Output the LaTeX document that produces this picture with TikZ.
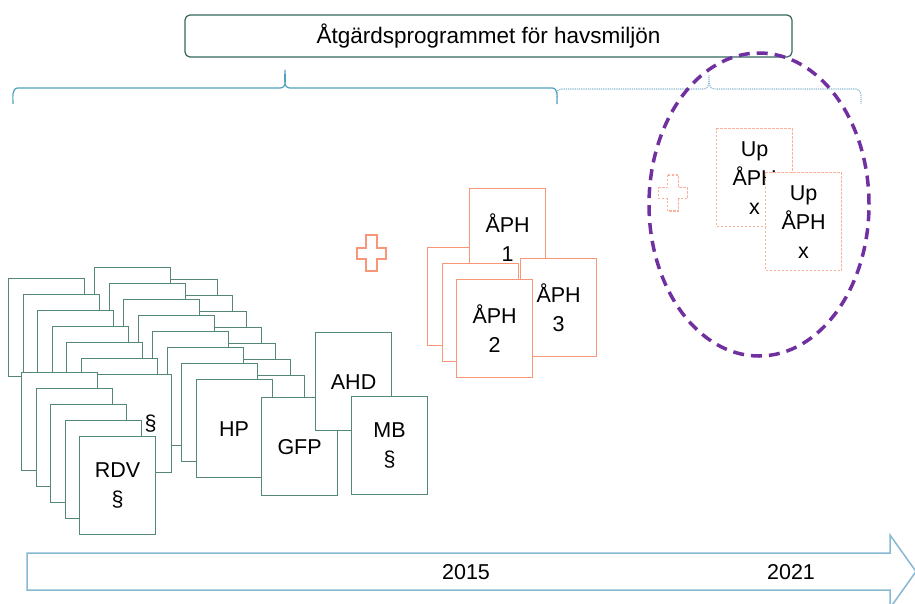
\documentclass[tikz,border=0pt]{standalone}
\usepackage{fontspec}
\setmainfont{Liberation Sans}
\usetikzlibrary{positioning}
\definecolor{slidegreen}{RGB}{84,134,122}
\definecolor{titlegreen}{RGB}{52,102,92}
\definecolor{aphorange}{RGB}{247,150,121}
\definecolor{aphlight}{RGB}{250,178,158}
\definecolor{circlepurple}{RGB}{112,48,160}
\definecolor{braceblue}{RGB}{80,160,190}
\definecolor{arrowblue}{RGB}{135,185,210}
\newcommand{\widthpage}{76pt}
\newcommand{\heightpage}{98pt}
\newcommand{\stackdx}{14.5}
\newcommand{\stackdy}{16}
\tikzset{
    common/.style={anchor=north west, draw, fill=white, rectangle, line width=1.2pt, align=center, font=\fontsize{21.5}{29}\selectfont},
    page/.style={common, draw=slidegreen, minimum width=\widthpage, minimum height=\heightpage},
    aph/.style={page, draw=aphorange},
    upaph/.style={aph, draw=aphlight, dash pattern=on 2.5pt off 1.5pt},
    pagetext/.style={font=\fontsize{21.5}{29}\selectfont, inner sep=0pt},
    titlebox/.style={draw=titlegreen, line width=1.2pt, rounded corners=5pt, minimum width=607pt, minimum height=42pt, font=\fontsize{22.5}{25}\selectfont},
    period/.style={braceblue, line width=1.2pt},
    nextperiod/.style={period, arrowblue, densely dotted},
    timeline/.style={draw=arrowblue, fill=white, line width=1.5pt, line join=miter},
    year/.style={pagetext},
    circlemark/.style={draw=circlepurple, line width=3.5pt, dash pattern=on 11pt off 7pt},
    plussign/.pic={
        \draw[pic actions] (-5.5,-18) -- (5.5,-18) -- (5.5,-5.5) -- (14.5,-5.5) -- (14.5,5.5) -- (5.5,5.5)
            -- (5.5,18) -- (-5.5,18) -- (-5.5,5.5) -- (-14.5,5.5) -- (-14.5,-5.5) -- (-5.5,-5.5) -- cycle;
    },
}
\begin{document}
\begin{tikzpicture}[x=1pt, y=-1pt]
    \useasboundingbox (0,0) rectangle (915,603);
    % slides behind HP
    \path (141,279) node[page] (hpC1) {}
        ++(\stackdx,\stackdy) node[page] (hpC2) {}
        ++(\stackdx,\stackdy) node[page] (hpC3) {}
        ++(\stackdx,\stackdy) node[page] (hpC4) {}
        ++(\stackdx,\stackdy) node[page] (hpC5) {}
        ++(\stackdx,\stackdy) node[page] (hpC6) {}
        ++(\stackdx,\stackdy) node[page] (hpC7) {};
    \path (94,267) node[page] (hpB1) {}
        ++(\stackdx,\stackdy) node[page] (hpB2) {}
        ++(\stackdx,\stackdy) node[page] (hpB3) {}
        ++(\stackdx,\stackdy) node[page] (hpB4) {}
        ++(\stackdx,\stackdy) node[page] (hpB5) {}
        ++(\stackdx,\stackdy) node[page] (hpB6) {}
        ++(\stackdx,\stackdy) node[page] (hpB7) {}
        ++(\stackdx,\stackdy) node[page] (hp) {HP};
    % slides behind RDV
    \path (8,278) node[page] (rdvA1) {}
        ++(\stackdx,\stackdy) node[page] (rdvA2) {}
        ++(\stackdx,\stackdy) node[page] (rdvA3) {}
        ++(\stackdx,\stackdy) node[page] (rdvA4) {}
        ++(\stackdx,\stackdy) node[page] (rdvA5) {}
        ++(\stackdx,\stackdy) node[page] (rdvA6) {}
        ++(\stackdx,\stackdy) node[page] (rdvA7) {};
    \node[pagetext] (rdvAsign) at ([xshift=17pt]rdvA7.center) {§};
    \path (21,372) node[page] (rdvD1) {}
        ++(\stackdx,\stackdy) node[page] (rdvD2) {}
        ++(\stackdx,\stackdy) node[page] (rdvD3) {}
        ++(\stackdx,\stackdy) node[page] (rdvD4) {}
        ++(\stackdx,\stackdy) node[page] (rdv) {RDV\\§};
    \node[page] (gfp) at (261,397) {GFP};
    \node[page] (ahd) at (315,332) {AHD};
    \node[page] (mb) at (351,396) {MB\\§};

    \pic[draw=aphorange, line width=2pt] at (371,253) {plussign};
    \node[aph] (aphback1) at (427,247) {};
    \node[aph] (aph1) at (469,188) {ÅPH\\1};
    \node[aph] (aphback2) at (442,263) {};
    \node[aph] (aph3) at (520,258) {ÅPH\\3};
    \node[aph] (aph2) at (456,279) {ÅPH\\2};

    \pic[draw=aphlight, line width=1.5pt, dash pattern=on 2.5pt off 1.5pt] at (673,193) {plussign};
    \node[upaph] (upaph1) at (716,128) {Up\\ÅPH\\x};
    \node[upaph] (upaph2) at (765,172) {Up\\ÅPH\\x};

    \node[titlebox] (title) at (488.5,36) {Åtgärdsprogrammet för havsmiljön};
    \draw[period] (13,104) to[out=90,in=180] (18,88) -- (280,88) to[out=0,in=-90] (285,70)
        to[out=-90,in=180] (290,88) -- (552,88) to[out=0,in=90] (557,104);
    \draw[nextperiod] (557,104) to[out=90,in=180] (561,89) -- (704,89) to[out=0,in=-90] (709,75)
        to[out=-90,in=180] (714,89) -- (856,89) to[out=0,in=90] (861,104);

    \draw[timeline] (27,553) -- (890,553) -- (890,535) -- (916,571.5) -- (890,608) -- (890,590) -- (27,590) -- cycle;
    \node[year] (y2015) at (466,572) {2015};
    \node[year] (y2021) at (791,572) {2021};

    \draw[circlemark] (759,204.5) ellipse [x radius=110pt, y radius=151.5pt];
\end{tikzpicture}
\end{document}
